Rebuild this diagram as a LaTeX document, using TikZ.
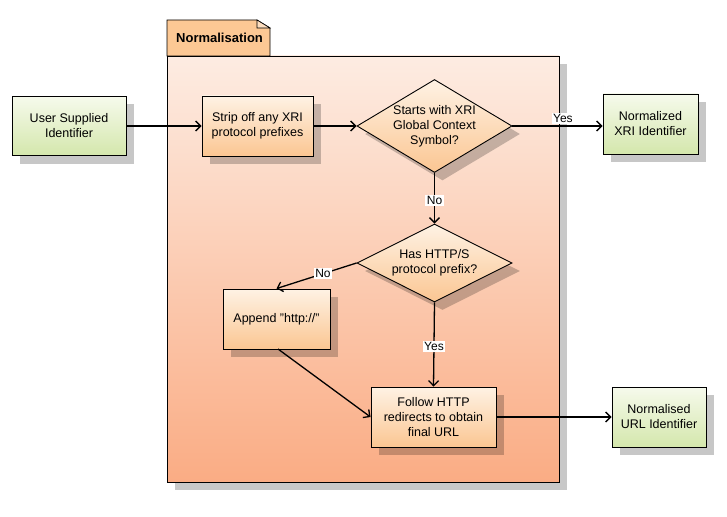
\documentclass[tikz,border=0pt]{standalone}
\usepackage{fontspec}
\setmainfont{Liberation Sans}
\usetikzlibrary{shapes.geometric,shadows,arrows.meta}
\definecolor{pkgtop}{RGB}{253,236,226}
\definecolor{pkgbot}{RGB}{250,172,132}
\definecolor{ortop}{RGB}{254,242,228}
\definecolor{orbot}{RGB}{251,198,146}
\definecolor{grtop}{RGB}{246,250,236}
\definecolor{grbot}{RGB}{212,231,172}
\definecolor{tabfill}{RGB}{252,200,148}
\definecolor{shadowgray}{RGB}{200,200,200}
\tikzset{
  shad/.style={drop shadow={shadow xshift=8pt, shadow yshift=-8pt, fill=black, opacity=0.22}},
  boxfont/.style={font=\fontsize{12.5}{15}\selectfont},
  orbox/.style={draw=black, line width=0.9pt, top color=ortop, bottom color=orbot, shad,
    align=center, inner sep=0pt, boxfont},
  grbox/.style={draw=black, line width=0.9pt, top color=grtop, bottom color=grbot, shad,
    align=center, inner sep=0pt, boxfont},
  decision/.style={diamond, draw=black, line width=0.9pt, top color=ortop, bottom color=orbot, shad,
    inner sep=0pt},
  dtext/.style={align=center, boxfont, inner sep=0pt},
  flow/.style={draw=black, line width=1.3pt, -{Straight Barb[length=5pt,width=10pt,line width=1.3pt]}},
  lbl/.style={fill=white, inner sep=1.5pt, font=\fontsize{12}{13}\selectfont}
}
\begin{document}
\begin{tikzpicture}[x=1pt,y=-1pt]
\useasboundingbox (0,0) rectangle (727,516);
% package shadow
\fill[shadowgray] (175,64) rectangle (567,490);
% package body
\shade[top color=pkgtop, bottom color=pkgbot] (167,56) rectangle (559,482);
\draw[line width=0.9pt] (167,56) rectangle (559,482);
% tab
\draw[line width=0.9pt, fill=tabfill] (167,56) -- (167,20) -- (257,20) -- (270,28) -- (270,56) -- cycle;
\draw[line width=0.6pt, fill=tabfill!60] (257,20) -- (257,28) -- (270,28) -- cycle;
\node[font=\bfseries\fontsize{13}{15}\selectfont, anchor=west, inner sep=0pt] (pkg) at (176,38) {Normalisation};

% nodes
\node[grbox, minimum width=114pt, minimum height=59pt] (user) at (69,126) {User Supplied\\Identifier};
\node[orbox, minimum width=111pt, minimum height=60pt] (strip) at (257.5,126) {Strip off any XRI\\protocol prefixes};
\node[decision, minimum width=155pt, minimum height=93pt,
  label={[dtext]center:Starts with XRI\\Global Context\\Symbol?}] (xri) at (434.5,126) {};
\node[grbox, minimum width=95pt, minimum height=60pt] (nxri) at (650.5,124) {Normalized\\XRI Identifier};
\node[decision, minimum width=155pt, minimum height=78pt,
  label={[dtext]center:Has HTTP/S\\protocol prefix?}] (http) at (434.5,263) {};
\node[orbox, minimum width=107pt, minimum height=60pt] (append) at (276.5,319) {Append "http://"};
\node[orbox, minimum width=125pt, minimum height=60pt] (follow) at (433.5,417) {Follow HTTP\\redirects to obtain\\final URL};
\node[grbox, minimum width=94pt, minimum height=60pt] (nurl) at (659,417) {Normalised\\URL Identifier};

% connectors
\draw[flow] (xri.east) -- node[lbl, pos=0.56, anchor=south, yshift=1pt] {Yes} (nxri.west |- xri.east);
\draw[flow] (user.east) -- (strip.west);
\draw[flow] (strip.east) -- (xri.west);
\draw[flow] (xri.south) -- node[lbl, pos=0.55] {No} (http.north);
\draw[flow] (http.west) -- node[lbl, pos=0.42] {No} (append.north);
\draw[flow] (http.south) -- node[lbl, pos=0.52] {Yes} (follow.north);
\coordinate (appout) at (278,349);
\draw[flow] (appout) -- (follow.west);
\draw[flow] (follow.east) -- (nurl.west);
\end{tikzpicture}
\end{document}
